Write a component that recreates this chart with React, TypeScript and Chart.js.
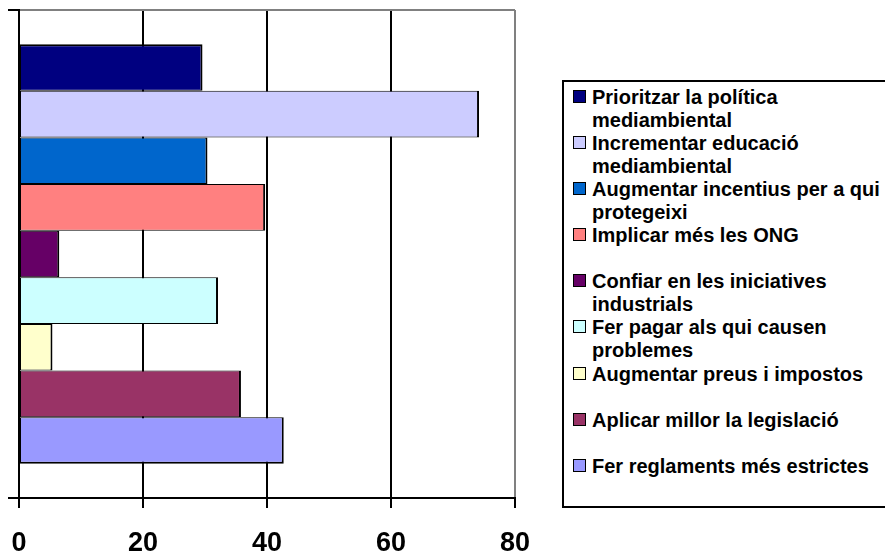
import React, { useEffect, useRef } from "react";
import { Chart, registerables } from "chart.js";

Chart.register(...registerables);

const seriesLabels: string[] = [
  "Prioritzar la política\nmediambiental",
  "Incrementar educació\nmediambiental",
  "Augmentar incentius per a qui\nprotegeixi",
  "Implicar més les ONG",
  "Confiar en les iniciatives\nindustrials",
  "Fer pagar als qui causen\nproblemes",
  "Augmentar preus i impostos",
  "Aplicar millor la legislació",
  "Fer reglaments més estrictes",
];
const seriesValues: number[] = [29.6, 74.2, 30.4, 39.7, 6.5, 32.1, 5.4, 35.8, 42.7];
const seriesColors: string[] = [
  "#000080",
  "#CCCCFF",
  "#0066CC",
  "#FF8080",
  "#660066",
  "#CCFFFF",
  "#FFFFCC",
  "#993366",
  "#9999FF",
];
const categories: string[] = [""];
const xMin = 0;
const xMax = 80;
const xStep = 20;

const FONT = '"Liberation Sans", Arial, sans-serif';

export default function App() {
  const canvasRef = useRef<HTMLCanvasElement | null>(null);

  useEffect(() => {
    const canvas = canvasRef.current;
    if (!canvas) return;
    const n = seriesValues.length;
    const chart = new Chart(canvas, {
      type: "bar",
      data: {
        labels: categories,
        datasets: seriesValues.map((v, i) => ({
          label: seriesLabels[i].replace("\n", " "),
          data: [v],
          backgroundColor: seriesColors[i],
          borderColor: "#000000",
          borderWidth: {
            top: i === 0 ? 2 : 1,
            bottom: i === n - 1 ? 2 : 1,
            left: 1,
            right: 2,
          },
          borderSkipped: false,
          categoryPercentage: 0.86,
          barPercentage: 1.0,
        })),
      },
      options: {
        indexAxis: "y",
        animation: false,
        responsive: false,
        maintainAspectRatio: false,
        layout: { padding: { top: 10, right: 370, left: 0, bottom: 0 } },
        plugins: {
          legend: { display: false },
          tooltip: { enabled: false },
          title: { display: false },
        },
        scales: {
          x: {
            type: "linear",
            min: xMin,
            max: xMax,
            afterFit: (scale: any) => {
              scale.height = 60;
              scale.paddingLeft = 0;
              scale.paddingRight = 0;
            },
            ticks: {
              stepSize: xStep,
              color: "#000000",
              padding: 19,
              font: { family: FONT, size: 27, weight: "bold" },
            },
            grid: {
              color: (ctx: any) =>
                ctx.tick && ctx.tick.value === xMax ? "#808080" : "#000000",
              tickColor: "#000000",
              lineWidth: 2,
              tickWidth: 2,
              tickLength: 10,
            },
            border: { display: true, color: "#000000", width: 2 },
          },
          y: {
            type: "category",
            afterFit: (scale: any) => {
              scale.width = 19;
              scale.paddingTop = 0;
              scale.paddingBottom = 0;
            },
            ticks: { display: true, font: { family: FONT, size: 12 } },
            grid: {
              offset: true,
              color: (ctx: any) => (ctx.index === 0 ? "#808080" : "#000000"),
              tickColor: "#000000",
              lineWidth: 2,
              tickWidth: 2,
              tickLength: 11,
            },
            border: { display: true, color: "#000000", width: 2 },
          },
        },
      },
    } as any);
    return () => chart.destroy();
  }, []);

  return (
    <div
      style={{
        position: "absolute",
        left: 0,
        top: 0,
        width: 885,
        height: 558,
        overflow: "hidden",
        background: "#ffffff",
      }}
    >
      <canvas
        ref={canvasRef}
        width={885}
        height={558}
        style={{ position: "absolute", left: 0, top: 0, width: 885, height: 558 }}
      />
      <div
        style={{
          position: "absolute",
          left: 562,
          top: 80,
          width: 340,
          height: 428,
          border: "2px solid #000000",
          boxSizing: "border-box",
          background: "#ffffff",
          paddingTop: 4,
          fontFamily: FONT,
          fontWeight: "bold",
          fontSize: 20,
          lineHeight: "23px",
          color: "#000000",
        }}
      >
        {seriesLabels.map((lab, i) => (
          <div
            key={i}
            style={{ display: "flex", alignItems: "flex-start", height: 46.1 }}
          >
            <div
              style={{
                marginLeft: 9,
                marginTop: 4,
                width: 13,
                height: 13,
                boxSizing: "border-box",
                border: "1.5px solid #000000",
                background: seriesColors[i],
                flex: "0 0 auto",
              }}
            />
            <div style={{ marginLeft: 6, whiteSpace: "pre-line" }}>{lab}</div>
          </div>
        ))}
      </div>
    </div>
  );
}
